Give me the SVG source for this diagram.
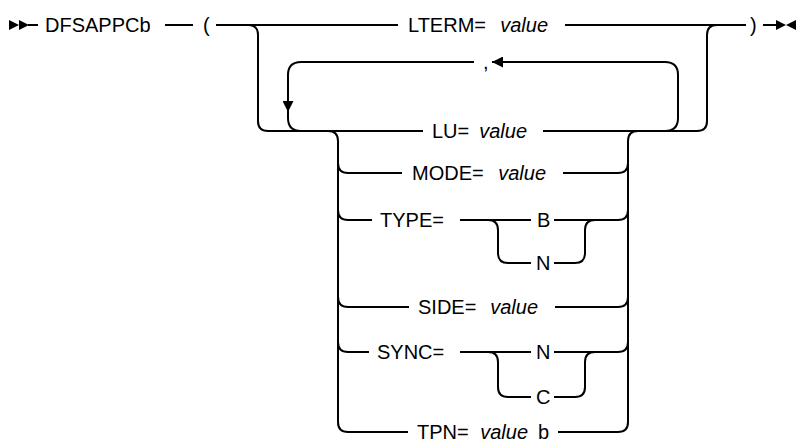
<svg xmlns="http://www.w3.org/2000/svg" width="805" height="443" viewBox="0 0 805 443">
<defs>
<style>
.t{font-family:"Liberation Sans",Arial,sans-serif;font-size:20px;fill:#000}
.v{font-style:italic}
.e{text-anchor:end}
.c{fill:none;stroke:#000;stroke-width:2}
.m{fill:#000;stroke:none}
</style>
<marker id="ah" viewBox="0 0 10 10" refX="10" refY="5" markerWidth="11" markerHeight="11" markerUnits="userSpaceOnUse" orient="auto">
<path d="M0,0 L10,5 L0,10 Z" fill="#000"/>
</marker>
</defs>
<rect width="805" height="443" fill="#fff"/>
<g id="start">
<polygon class="m" points="9,20 9,30 19,25"/>
<polygon class="m" points="19,20 19,30 29,25"/>
<line class="c" x1="28" y1="25" x2="38" y2="25"/>
</g>
<g id="end">
<line class="c" x1="763" y1="25" x2="777" y2="25"/>
<polygon class="m" points="776,20 776,30 786,25"/>
<polygon class="m" points="796,20 796,30 786,25"/>
</g>
<g id="n-dfsappcb"><text class="t" x="45" y="32">DFSAPPCb</text></g>
<g id="n-lparen"><text class="t" x="203" y="32">(</text></g>
<g id="n-rparen"><text class="t" x="750" y="32">)</text></g>
<g id="n-lterm"><text class="t" x="408" y="32">LTERM=</text><text class="t v e" x="548" y="32">value</text></g>
<g id="n-comma"><text class="t" x="483" y="69">,</text></g>
<g id="n-lu"><text class="t" x="432" y="138">LU=</text><text class="t v e" x="527" y="138">value</text></g>
<g id="n-mode"><text class="t" x="412" y="180">MODE=</text><text class="t v e" x="546" y="180">value</text></g>
<g id="n-type"><text class="t" x="380" y="227">TYPE=</text></g>
<g id="n-type-b"><text class="t" x="537" y="227">B</text></g>
<g id="n-type-n"><text class="t" x="536" y="270">N</text></g>
<g id="n-side"><text class="t" x="418" y="314">SIDE=</text><text class="t v e" x="538" y="314">value</text></g>
<g id="n-sync"><text class="t" x="377" y="359">SYNC=</text></g>
<g id="n-sync-n"><text class="t" x="536" y="359">N</text></g>
<g id="n-sync-c"><text class="t" x="536" y="404">C</text></g>
<g id="n-tpn"><text class="t" x="417" y="438.5">TPN=</text><text class="t v e" x="528" y="438.5">value</text><text class="t" x="538" y="438.5">b</text></g>
<g id="connectors">
<path class="c" d="M165 25 H193"/>
<path class="c" d="M216 25 H398 M565 25 H746"/>
<path class="c" d="M248 25 Q258 25 258 35 V121 Q258 131 268 131 H423 M543 131 H697 Q707 131 707 121 V35 Q707 25 717 25"/>
<path class="c" d="M665 131 Q678 131 678 118 V75 Q678 62 665 62 H492" marker-end="url(#ah)"/>
<path class="c" d="M474 62 H301 Q288 62 288 75 V112" marker-end="url(#ah)"/>
<path class="c" d="M288 110 V118 Q288 131 301 131"/>
<path class="c" d="M328 131 Q338 131 338 141 V422 Q338 432 348 432 H408 M558 432 H618 Q628 432 628 422 V141 Q628 131 638 131"/>
<path class="c" d="M338 163 Q338 173 348 173 H402 M563 173 H618 Q628 173 628 163"/>
<path class="c" d="M338 210 Q338 220 348 220 H372 M460 220 H531 M554 220 H618 Q628 220 628 210"/>
<path class="c" d="M488 220 Q498 220 498 230 V253 Q498 263 508 263 H531 M554 263 H575 Q585 263 585 253 V230 Q585 220 595 220"/>
<path class="c" d="M338 297 Q338 307 348 307 H409 M555 307 H618 Q628 307 628 297"/>
<path class="c" d="M338 342 Q338 352 348 352 H369 M460 352 H531 M554 352 H618 Q628 352 628 342"/>
<path class="c" d="M488 352 Q498 352 498 362 V387 Q498 397 508 397 H531 M554 397 H575 Q585 397 585 387 V362 Q585 352 595 352"/>
</g>
</svg>
